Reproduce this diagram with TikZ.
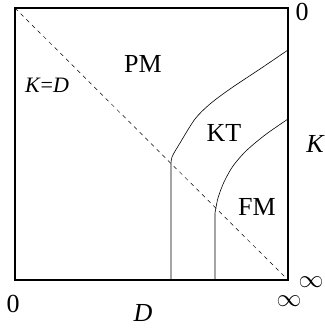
\documentclass[tikz,border=0pt]{standalone}
\usepackage{fontspec}
\setmainfont{Liberation Serif}
\usepackage{amsmath,amssymb}

\tikzset{
  lbl/.style={inner sep=0pt, font=\fontsize{26}{28}\selectfont},
  ilbl/.style={lbl, font=\fontsize{26}{28}\selectfont\itshape},
  inflbl/.style={inner sep=0pt, font=\fontsize{23}{25}\selectfont},
  border/.style={line width=1.3pt},
  phase/.style={line width=0.6pt},
  diag/.style={line width=0.5pt, dash pattern=on 4pt off 4pt}
}

\begin{document}
\begin{tikzpicture}[x=1pt,y=-1pt]
\useasboundingbox (0,0) rectangle (324,331);
% corners of the phase plane
\coordinate (tl) at (15,8);
\coordinate (tr) at (288,8);
\coordinate (bl) at (15,280);
\coordinate (br) at (288,280);
\draw[border] (tl) -- (tr) -- (br) -- (bl) -- cycle;
\draw[diag] (tl) -- (br);

% phase boundaries
\coordinate (a0) at (171,280);
\coordinate (a1) at (171,166);
\coordinate (b0) at (215,280);
\coordinate (b1) at (215,213);
\draw[phase] (a0) -- (a1) plot[smooth] coordinates
  {(171,166) (172,157) (180,143) (195,119) (210,104) (230,89) (260,69) (288,50)};
\draw[phase] (b0) -- (b1) plot[smooth] coordinates
  {(215,213) (218,198) (224,182) (233,166) (246,151) (265,135) (288,119)};

% labels
\node[lbl] (pm) at (143,64) {PM};
\node[lbl] (kt) at (224,133) {KT};
\node[lbl] (fm) at (257,207) {FM};
\node[lbl, font=\fontsize{22}{24}\selectfont] (kd) at (47,85) {\textit{K}=\textit{D}};
\node[ilbl] (kax) at (315,144) {K};
\node[ilbl] (dax) at (143,313) {D};
\node[lbl] (ktop) at (302,12) {0};
\node[lbl] (dzero) at (13,304) {0};
\node[inflbl] (kinf) at (311,282) {$\infty$};
\node[inflbl] (dinf) at (289,301) {$\infty$};
\end{tikzpicture}
\end{document}
